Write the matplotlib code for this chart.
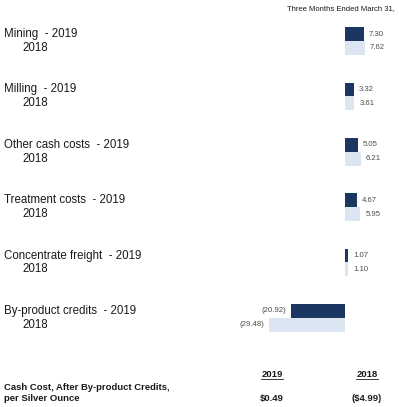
import matplotlib

matplotlib.use("Agg")
import matplotlib.pyplot as plt
from matplotlib.lines import Line2D

# Cost components per silver ounce, three months ended March 31
categories = [
    "Mining",
    "Milling",
    "Other cash costs",
    "Treatment costs",
    "Concentrate freight",
    "By-product credits",
]
values_2019 = [7.30, 3.32, 5.05, 4.67, 1.07, -20.92]
values_2018 = [7.62, 3.61, 6.21, 5.95, 1.10, -29.48]
years = ["2019", "2018"]
totals = ["$0.49", "($4.99)"]

title = "Three Months Ended March 31,"
total_label = ["Cash Cost, After By-product Credits,", "per Silver Ounce"]

DARK = "#1b3660"
LIGHT = "#dce6f2"
VALUE_GREY = "#4d4d4d"

plt.rcParams["font.family"] = ["Liberation Sans", "DejaVu Sans"]

fig = plt.figure(figsize=(3.99, 4.07), dpi=100)
ax = fig.add_axes([0, 0, 1, 1])

bar_h = 0.25
ypos = list(range(len(categories)))

ax.barh([y - bar_h / 2 for y in ypos], values_2019, height=bar_h,
        color=DARK, linewidth=0)
ax.barh([y + bar_h / 2 for y in ypos], values_2018, height=bar_h,
        color=LIGHT, linewidth=0)

ax.set_xlim(-134.2, 21.0)
ax.set_ylim(6.61, -0.74)
ax.axis("off")


def fmt(v):
    return f"({abs(v):.2f})" if v < 0 else f"{v:.2f}"


pad = 2.0
for y, v19, v18 in zip(ypos, values_2019, values_2018):
    for v, yy in ((v19, y - bar_h / 2), (v18, y + bar_h / 2)):
        if v >= 0:
            ax.text(v + pad, yy, fmt(v), ha="left", va="center",
                    fontsize=5.6, color=VALUE_GREY)
        else:
            ax.text(v - pad, yy, fmt(v), ha="right", va="center",
                    fontsize=5.6, color=VALUE_GREY)

# category labels on the left
trans = ax.get_yaxis_transform()
for y, name in zip(ypos, categories):
    ax.text(0.01, y - bar_h / 2, f"{name}  - {years[0]}", transform=trans,
            ha="left", va="center", fontsize=8.3, color="#1a1a1a")
    ax.text(0.055, y + bar_h / 2, years[1], transform=trans,
            ha="left", va="center", fontsize=8.3, color="#1a1a1a")

fig.text(0.99, 0.978, title, ha="right", va="center", fontsize=5.5,
         color="#1a1a1a")

# summary row at the bottom
fig.text(0.01, 0.049, total_label[0], ha="left", va="center",
         fontsize=6.8, fontweight="bold", color="#1a1a1a")
fig.text(0.01, 0.022, total_label[1], ha="left", va="center",
         fontsize=6.8, fontweight="bold", color="#1a1a1a")

col_x = [0.682, 0.92]
year_texts = []
for x, yr, tot in zip(col_x, years, totals):
    year_texts.append(fig.text(x, 0.081, yr, ha="center", va="center",
                               fontsize=6.8, fontweight="bold",
                               color="#1a1a1a"))
    fig.text(x, 0.022, tot, ha="center", va="center", fontsize=6.8,
             fontweight="bold", color="#1a1a1a")

# underline the year headers
fig.canvas.draw()
renderer = fig.canvas.get_renderer()
inv = fig.transFigure.inverted()
for t in year_texts:
    bb = t.get_window_extent(renderer).transformed(inv)
    fig.add_artist(Line2D([bb.x0, bb.x1], [bb.y0 - 0.002, bb.y0 - 0.002],
                          transform=fig.transFigure, color="#1a1a1a",
                          linewidth=0.6))

fig.savefig("out.png", dpi=100)
